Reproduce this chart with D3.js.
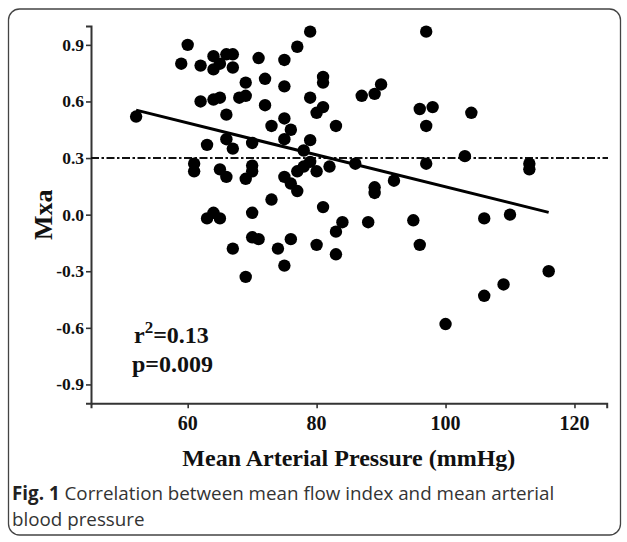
<!DOCTYPE html>
<html><head><meta charset="utf-8">
<script src="https://cdn.jsdelivr.net/npm/d3@7"></script>
<style>
html,body{margin:0;padding:0;background:#fff;}
svg{display:block;}
.lbl{font-family:'Liberation Serif','Times New Roman',serif;font-weight:bold;fill:#111;}
</style></head>
<body>
<script>
// Mean arterial pressure (mmHg)
const mapValues = [52,59,60,61,61,62,62,63,63,64,64,64,64,65,65,65,65,66,66,66,66,67,67,67,67,68,69,69,69,69,70,70,70,70,70,71,71,72,72,73,73,74,75,75,75,75,75,75,76,76,76,77,77,77,78,78,79,79,79,79,80,80,80,81,81,81,81,82,83,83,83,84,86,87,88,89,89,89,90,92,95,96,96,97,97,97,98,100,103,104,106,106,109,110,113,113,116];
// Mxa
const mxaValues = [0.52,0.80,0.90,0.27,0.23,0.79,0.60,0.37,-0.02,0.84,0.77,0.61,0.01,0.80,0.62,0.24,-0.02,0.85,0.53,0.40,0.20,0.85,0.78,0.35,-0.18,0.62,0.70,0.63,0.19,-0.33,0.38,0.26,0.23,0.01,-0.12,0.83,-0.13,0.72,0.58,0.47,0.08,-0.18,0.82,0.68,0.51,0.40,0.20,-0.27,0.45,0.165,-0.13,0.89,0.23,0.125,0.34,0.255,0.97,0.62,0.395,0.28,0.54,0.23,-0.16,0.73,0.70,0.57,0.04,0.255,0.47,-0.09,-0.21,-0.04,0.27,0.63,-0.04,0.64,0.145,0.115,0.69,0.18,-0.03,0.56,-0.16,0.97,0.47,0.27,0.57,-0.58,0.31,0.54,-0.02,-0.43,-0.37,0.00,0.27,0.24,-0.30];
const xTicks = [60,80,100,120];
const yTicks = [-0.9,-0.6,-0.3,0.0,0.3,0.6,0.9];
const yTickLabels = ["-0.9","-0.6","-0.3","0.0","0.3","0.6","0.9"];
const fitLine = [[52,0.554],[116,0.012]];
const refLevel = 0.3;

const W = 627, H = 542;
const svg = d3.select("body").append("svg").attr("width", W).attr("height", H);

// frame
svg.append("rect").attr("x", 8.5).attr("y", 9).attr("width", 612).attr("height", 526)
  .attr("rx", 11).attr("fill", "none").attr("stroke", "#444").attr("stroke-width", 1.3);

const x = d3.scaleLinear().domain([45,125]).range([91, 606.7]);
const y = d3.scaleLinear().domain([-1,1]).range([403.3, 26]);

const xAxis = svg.append("g").attr("transform", `translate(0,${y(-1)})`)
  .call(d3.axisBottom(x).tickValues(xTicks).tickSize(5).tickFormat(""));
const yAxis = svg.append("g").attr("transform", `translate(${x(45)},0)`)
  .call(d3.axisLeft(y).tickValues(yTicks).tickSize(5).tickFormat(""));
[xAxis, yAxis].forEach(g => {
  g.select(".domain").attr("stroke", "#333").attr("stroke-width", 2);
  g.selectAll(".tick line").attr("stroke", "#333").attr("stroke-width", 1.6);
});

// tick labels drawn from the scales
const tickFont = "'Liberation Serif','Times New Roman',serif";
svg.append("g").attr("font-family", tickFont).attr("font-weight", "bold").attr("font-size", 20)
  .selectAll("text").data(xTicks).join("text")
  .attr("x", d => x(d)).attr("y", 430).attr("text-anchor", "middle").attr("fill", "#111")
  .text(d => String(d));
svg.append("g").attr("font-family", tickFont).attr("font-weight", "bold").attr("font-size", 17.5)
  .selectAll("text").data(yTicks).join("text")
  .attr("x", 84).attr("y", d => y(d) + 6).attr("text-anchor", "end").attr("fill", "#111")
  .text((d, i) => yTickLabels[i]);

// reference dash-dot line
svg.append("line").attr("x1", x(45)).attr("x2", 608).attr("y1", y(refLevel)).attr("y2", y(refLevel))
  .attr("stroke", "#111").attr("stroke-width", 2).attr("stroke-dasharray", "8,2.5,2.5,2.5");

// points
svg.append("g").selectAll("circle").data(mapValues.map((v,i)=>[v, mxaValues[i]])).join("circle")
  .attr("cx", d => x(d[0])).attr("cy", d => y(d[1])).attr("r", 6.2).attr("fill", "#000");

// regression line
svg.append("path").datum(fitLine)
  .attr("d", d3.line().x(d => x(d[0])).y(d => y(d[1])))
  .attr("stroke", "#000").attr("stroke-width", 3).attr("fill", "none");

// stats text
const t1 = svg.append("text").attr("class", "lbl").attr("x", 134).attr("y", 343).style("font-size", "24px");
t1.append("tspan").text("r");
t1.append("tspan").attr("dy", -10).style("font-size", "17px").text("2");
t1.append("tspan").attr("dy", 10).text("=0.13");
svg.append("text").attr("class", "lbl").attr("x", 132).attr("y", 372).style("font-size", "24px").text("p=0.009");

// axis titles
svg.append("text").attr("class", "lbl").attr("x", (x(45)+606.7)/2).attr("y", 466).attr("text-anchor", "middle")
  .style("font-size", "24px").text("Mean Arterial Pressure (mmHg)");
svg.append("text").attr("class", "lbl").attr("transform", `translate(52,${y(0)}) rotate(-90)`).attr("text-anchor", "middle")
  .style("font-size", "26px").text("Mxa");

// caption
const cap = svg.append("text").attr("x", 12).attr("y", 500).style("font-family", "'Open Sans',sans-serif")
  .style("font-size", "18.8px").attr("fill", "#333");
cap.append("tspan").style("font-weight", "bold").attr("fill", "#222").text("Fig. 1");
cap.append("tspan").text(" Correlation between mean flow index and mean arterial");
svg.append("text").attr("x", 12).attr("y", 526).style("font-family", "'Open Sans',sans-serif")
  .style("font-size", "18.8px").attr("fill", "#333").text("blood pressure");
</script>
</body></html>
